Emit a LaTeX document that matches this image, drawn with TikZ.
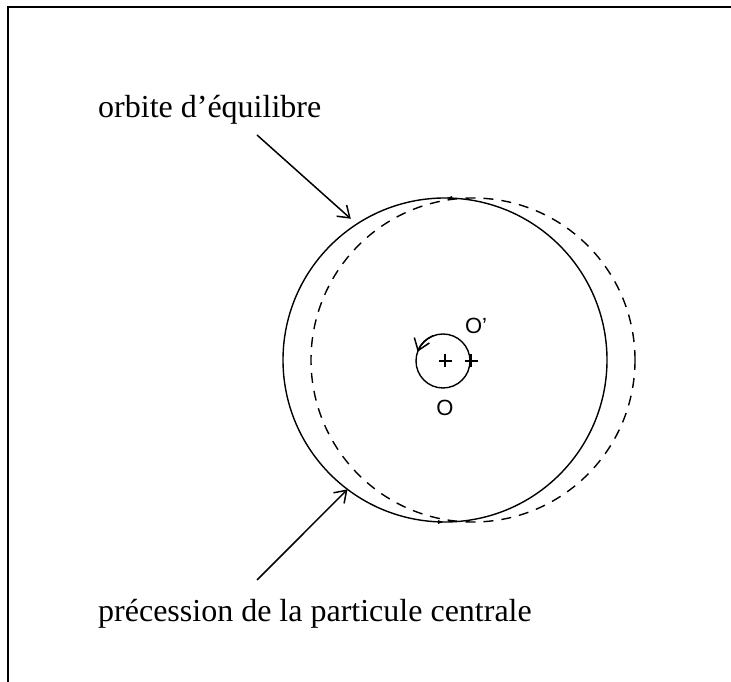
\documentclass[tikz,border=0pt]{standalone}
\usepackage{fontspec}
\setmainfont{Liberation Serif}
\newfontfamily\etiqfont{Liberation Sans}
\usetikzlibrary{arrows.meta, decorations.markings}

\begin{document}
\begin{tikzpicture}[x=1pt, y=1pt,
    trait/.style={line width=1.4pt},
    fleche/.style={line width=1.5pt, -{Straight Barb[length=11pt, width=15pt, line width=1.5pt]}},
    tour/.style={line width=1.5pt, -{Straight Barb[length=11pt, width=16pt, line width=1.5pt]}},
    petitsens/.style={postaction={decorate}, decoration={markings,
        mark=at position 0.25 with {\arrow{Latex[length=7pt, width=4pt]}},
        mark=at position 0.75 with {\arrow{Latex[length=7pt, width=4pt]}}}},
    legende/.style={font=\fontsize{32}{38}\selectfont, inner sep=0pt, anchor=base west},
    repere/.style={font=\etiqfont\fontsize{22}{26}\selectfont, inner sep=0pt}]
  \useasboundingbox (0,0) rectangle (731,682);

  % Cadre
  \draw[line width=2.5pt] (8,0) -- (8,675) -- (731,675);

  % Orbites
  \node[circle, minimum size=324pt, inner sep=0pt, outer sep=0pt] (orbite) at (445,322) {};
  \draw[trait, petitsens] (orbite.center) circle[radius=162];
  \draw[trait, dash pattern=on 10pt off 8pt] (473,322) circle[radius=162];

  % Particule centrale
  \node[circle, minimum size=54pt, inner sep=0pt, outer sep=0pt] (petit) at (443,321) {};
  \draw[trait] (petit.center) circle[radius=27];
  \draw[tour] (petit.110) arc[start angle=110, end angle=160, radius=27];
  \coordinate (O) at (445,321);
  \coordinate (Oprime) at (471,321);
  \draw[trait] (O) ++(-6.5,0) -- ++(13,0) (O) ++(0,-6.5) -- ++(0,13);
  \draw[trait] (Oprime) ++(-6.5,0) -- ++(13,0) (Oprime) ++(0,-6.5) -- ++(0,13);
  \node[repere] (labO) at (445,274) {O};
  \node[repere] (labOprime) at (476,356) {O’};

  % Libelles
  \node[legende] (txtorbite) at (98,564) {orbite d’équilibre};
  \node[legende] (txtprec) at (98,60) {précession de la particule centrale};
  \coordinate (depA) at (257,547);
  \coordinate (depB) at (257,102);
  \draw[fleche, shorten >=8pt] (depA) -- (orbite.123);
  \draw[fleche] (depB) -- (orbite.233);
\end{tikzpicture}
\end{document}
